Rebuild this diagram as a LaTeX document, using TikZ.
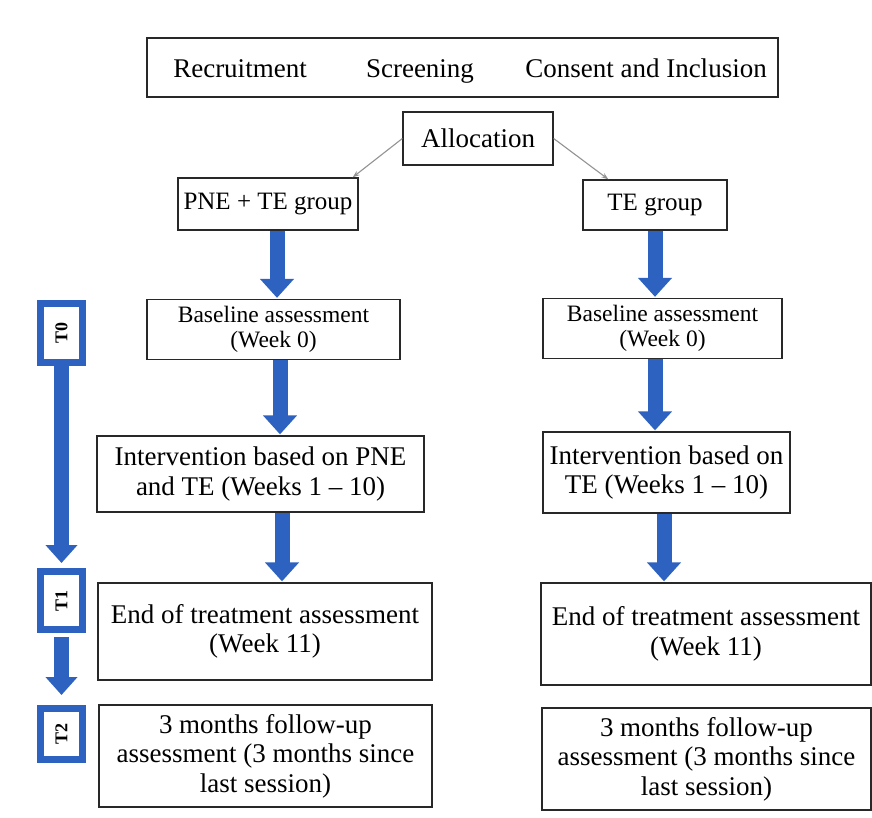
\documentclass[tikz,border=0pt]{standalone}
\usepackage{fontspec}
\setmainfont{Liberation Serif}
\usetikzlibrary{arrows.meta}
\definecolor{tblue}{RGB}{46,98,192}
\definecolor{bord}{RGB}{40,40,40}
\begin{document}
\begin{tikzpicture}[x=1pt,y=-1pt,
  box/.style={draw=bord, line width=1.3pt, fill=white, align=center, inner sep=0pt, font=\fontsize{27}{29.5}\selectfont},
  smallbox/.style={box, font=\fontsize{23.5}{25}\selectfont},
  midbox/.style={box, font=\fontsize{25}{27}\selectfont},
  tbox/.style={draw=tblue, line width=7pt, fill=white, inner sep=0pt, minimum width=42pt, font=\bfseries\fontsize{18}{20}\selectfont},
  flow/.style={draw=tblue, line width=15pt, -{Triangle[length=19pt,width=33pt]}},
  tflow/.style={draw=tblue, line width=15pt, -{Triangle[length=18pt,width=31pt]}},
  grayarrow/.style={draw=gray!85, line width=1.1pt, -{Stealth[length=7pt,width=5pt]}},
  words/.style={font=\fontsize{27}{29}\selectfont, anchor=base, inner sep=0pt}]
\useasboundingbox (0,0) rectangle (872,817);
\fill[white] (0,0) rectangle (872,817);

% top box
\node[box, minimum width=631pt, minimum height=59pt] (top) at (462.5,67.5) {};
\node[words] (rec) at (240,77) {Recruitment};
\node[words] (scr) at (420,77) {Screening};
\node[words] (con) at (646,77) {Consent and Inclusion};

\node[box, minimum width=150pt, minimum height=53pt] (alloc) at (478,138.5) {Allocation};

\node[midbox, minimum width=180pt, minimum height=52pt] (pne) at (268,204) {PNE + TE group};
\node[midbox, minimum width=144pt, minimum height=50pt] (te) at (655,205) {TE group};

\node[smallbox, minimum width=253pt, minimum height=60pt] (baseL) at (273.5,329.5) {Baseline assessment\\(Week 0)};
\node[smallbox, minimum width=239pt, minimum height=60pt] (baseR) at (662.5,328.5) {Baseline assessment\\(Week 0)};

\node[box, minimum width=327pt, minimum height=76pt] (intL) at (260.5,474) {Intervention based on PNE\\and TE (Weeks 1 -- 10)};
\node[box, minimum width=247pt, minimum height=81pt] (intR) at (666.5,472.5) {Intervention based on\\TE (Weeks 1 -- 10)};

\node[box, minimum width=334pt, minimum height=97pt] (endL) at (265,631.5) {End of treatment assessment\\(Week 11)};
\node[box, minimum width=330pt, minimum height=102pt] (endR) at (706,634) {End of treatment assessment\\(Week 11)};

\node[box, minimum width=333pt, minimum height=102pt] (fuL) at (265.5,756) {3 months follow-up\\assessment (3 months since\\last session)};
\node[box, minimum width=329pt, minimum height=102pt] (fuR) at (706.5,759) {3 months follow-up\\assessment (3 months since\\last session)};

% timeline
\node[tbox, minimum height=59pt] (t0) at (61.5,333) {\rotatebox{90}{T0}};
\node[tbox, minimum height=58pt] (t1) at (61.5,600.5) {\rotatebox{90}{T1}};
\node[tbox, minimum height=51pt] (t2) at (61.5,734) {\rotatebox{90}{T2}};

\draw[tflow, shorten >=5pt] (t0.south) -- (t1.north);
\draw[tflow, shorten <=4pt, shorten >=10pt] (t1.south) -- (t2.north);

% gray allocation arrows
\draw[grayarrow] (alloc.west) -- ([xshift=-6pt]pne.north east);
\draw[grayarrow] (alloc.east) -- ([xshift=26pt]te.north west);

% blue flow arrows
\draw[flow, shorten >=1pt] ([xshift=9pt]pne.south) -- ([xshift=9pt]pne.south |- baseL.north);
\draw[flow, shorten >=1pt] (te.south) -- (te.south |- baseR.north);
\draw[flow, shorten >=1pt] ([xshift=6.5pt]baseL.south) -- ([xshift=6.5pt]baseL.south |- intL.north);
\draw[flow, shorten >=1pt] ([xshift=-7.5pt]baseR.south) -- ([xshift=-7.5pt]baseR.south |- intR.north);
\draw[flow, shorten >=1pt] ([xshift=21.5pt]intL.south) -- ([xshift=21.5pt]intL.south |- endL.north);
\draw[flow, shorten >=1pt] ([xshift=-2.5pt]intR.south) -- ([xshift=-2.5pt]intR.south |- endR.north);
\end{tikzpicture}
\end{document}
